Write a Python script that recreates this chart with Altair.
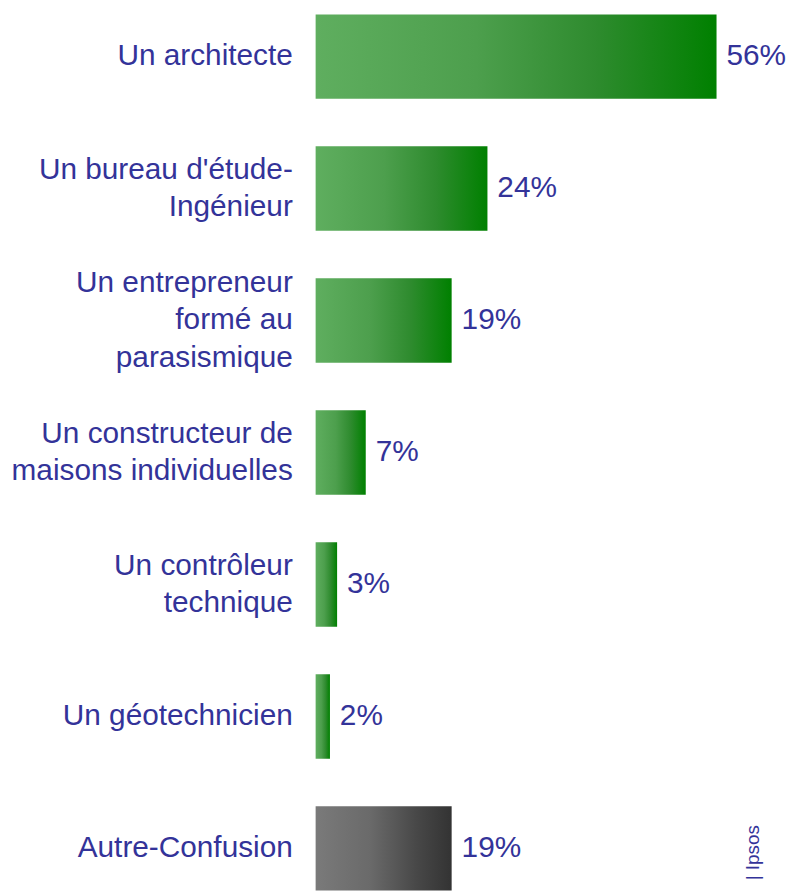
import altair as alt
import pandas as pd

categories = [
    "Un architecte",
    "Un bureau d'étude-|Ingénieur",
    "Un entrepreneur|formé au|parasismique",
    "Un constructeur de|maisons individuelles",
    "Un contrôleur|technique",
    "Un géotechnicien",
    "Autre-Confusion",
]
values = [56, 24, 19, 7, 3, 2, 19]
groups = ["green", "green", "green", "green", "green", "green", "grey"]
source_note = ["| Ipsos"]

df = pd.DataFrame({"cat": categories, "value": values, "group": groups})
df["nlines"] = df["cat"].str.count(r"\|") + 1

FONT = "Liberation Sans"
TXT = "#333399"
FS = 30
LH = 38

green_grad = {
    "gradient": "linear", "x1": 0, "x2": 1, "y1": 0, "y2": 0,
    "stops": [
        {"offset": 0, "color": "#5fae5f"},
        {"offset": 0.4, "color": "#4d9f4d"},
        {"offset": 0.7, "color": "#2e8b2e"},
        {"offset": 1, "color": "#008000"},
    ],
}
grey_grad = {
    "gradient": "linear", "x1": 0, "x2": 1, "y1": 0, "y2": 0,
    "stops": [
        {"offset": 0, "color": "#7a7a7a"},
        {"offset": 0.4, "color": "#6a6a6a"},
        {"offset": 0.75, "color": "#474747"},
        {"offset": 1, "color": "#333333"},
    ],
}

x_scale = alt.Scale(domain=[0, 56], nice=False, zero=True)
y_enc = alt.Y(
    "cat:N",
    sort=categories,
    scale=alt.Scale(domain=categories, paddingInner=0.361, paddingOuter=0.0226),
    axis=None,
)
x_enc = alt.X("value:Q", scale=x_scale, axis=None)

base = alt.Chart(df)

green_bars = base.transform_filter(alt.datum.group == "green").mark_bar(fill=green_grad).encode(x=x_enc, y=y_enc)
grey_bars = base.transform_filter(alt.datum.group == "grey").mark_bar(fill=grey_grad).encode(x=x_enc, y=y_enc)

values_text = base.transform_calculate(lab="datum.value + '%'").mark_text(
    align="left", baseline="middle", dx=10, font=FONT, fontSize=FS, color=TXT
).encode(x=x_enc, y=y_enc, text="lab:N")

cat_layers = []
for n in (1, 2, 3):
    cat_layers.append(
        base.transform_filter(alt.datum.nlines == n)
        .transform_calculate(lines="split(datum.cat, '|')")
        .mark_text(
            align="right", baseline="middle", dx=-23, dy=-(n - 1) * LH / 2,
            font=FONT, fontSize=FS, color=TXT, lineHeight=LH,
        )
        .encode(x=alt.datum(0, scale=x_scale), y=y_enc, text="lines:N")
    )

note = alt.Chart(pd.DataFrame({"t": source_note})).mark_text(
    angle=270, align="right", baseline="middle", font=FONT, fontSize=19, color=TXT
).encode(x=alt.value(441), y=alt.value(820), text="t:N")

chart = alt.layer(green_bars, grey_bars, values_text, *cat_layers, note).properties(
    width=404,
    height=889,
    autosize=alt.AutoSizeParams(type="none"),
    padding={"left": 310, "top": 0, "right": 70, "bottom": 0},
).configure_view(stroke=None)

chart.save("out.html", embed_options={"renderer": "svg", "actions": False})
